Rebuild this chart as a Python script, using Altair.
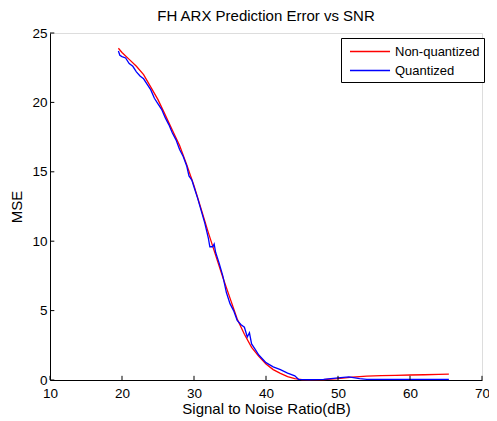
import altair as alt
import pandas as pd

# Non-quantized series
red_x = [19.5, 20, 21, 22, 23, 24, 25, 26, 27, 28, 29, 30, 31, 32, 33, 34, 35, 36, 37, 38,
         39, 40, 41, 42, 43, 44, 45, 46, 48, 50, 52, 54, 56, 58, 60, 62, 64, 65.4]
red_y = [23.9, 23.6, 23.1, 22.6, 22.0, 21.1, 20.2, 19.1, 18.0, 16.9, 15.5, 14.0, 12.3, 10.6,
         9.0, 7.4, 5.9, 4.4, 3.3, 2.35, 1.7, 1.15, 0.75, 0.48, 0.25, 0.1, 0.03, 0.02, 0.03,
         0.1, 0.2, 0.28, 0.32, 0.34, 0.36, 0.38, 0.4, 0.42]

# Quantized series
blue_x = [19.5, 19.7, 20, 20.5, 21, 21.5, 22, 22.5, 23, 23.5, 24, 24.5, 25, 25.5, 26, 26.5,
          27, 27.5, 28, 28.5, 29, 29.3, 29.7, 30, 30.5, 31, 31.5, 32, 32.2, 32.6, 32.8, 33,
          33.5, 34, 34.5, 35, 35.5, 36, 36.5, 37, 37.4, 37.7, 38, 38.5, 39, 40, 41, 42, 43,
          44, 44.5, 46, 48, 50, 51.5, 53, 54, 56, 60, 65.4]
blue_y = [23.7, 23.4, 23.3, 23.2, 22.8, 22.6, 22.2, 21.9, 21.7, 21.3, 20.9, 20.3, 19.9, 19.5,
          18.9, 18.4, 17.8, 17.3, 16.6, 16.1, 15.4, 14.7, 14.4, 13.9, 13.1, 12.2, 11.3, 10.2,
          9.6, 9.6, 9.8, 9.2, 8.4, 7.5, 6.3, 5.5, 5.0, 4.3, 4.0, 3.8, 3.1, 3.4, 2.6, 2.2, 1.8,
          1.25, 0.95, 0.75, 0.5, 0.3, 0.05, 0.03, 0.05, 0.15, 0.22, 0.1, 0.05, 0.04, 0.04, 0.04]

series_names = ["Non-quantized", "Quantized"]
series_colors = ["#ff0000", "#0000ff"]

x_ticks = [10, 20, 30, 40, 50, 60, 70]
y_ticks = [0, 5, 10, 15, 20, 25]

FONT = "Liberation Sans"

df = pd.concat([
    pd.DataFrame({"snr": red_x, "mse": red_y, "series": series_names[0]}),
    pd.DataFrame({"snr": blue_x, "mse": blue_y, "series": series_names[1]}),
])
df["order"] = range(len(df))

xs = alt.Scale(domain=[10, 70], nice=False)
ys = alt.Scale(domain=[0, 25], nice=False)

lines = alt.Chart(df).mark_line(strokeWidth=1.3).encode(
    x=alt.X("snr:Q", scale=xs, title="Signal to Noise Ratio(dB)",
            axis=alt.Axis(values=x_ticks, ticks=False, grid=False, domainColor="black",
                          labelFlush=False, labelOverlap=False,
                          labelColor="black", labelFontSize=13.5, labelFont=FONT,
                          titleFont=FONT, titleFontSize=15, titleFontWeight="normal",
                          titleColor="black", titlePadding=2, labelPadding=6)),
    y=alt.Y("mse:Q", scale=ys, title="MSE",
            axis=alt.Axis(values=y_ticks, ticks=False, grid=False, domainColor="black",
                          labelFlush=False, labelOverlap=False,
                          labelColor="black", labelFontSize=13.5, labelFont=FONT,
                          titleFont=FONT, titleFontSize=15, titleFontWeight="normal",
                          titleColor="black", titlePadding=7, labelPadding=3)),
    color=alt.Color("series:N", scale=alt.Scale(domain=series_names, range=series_colors),
                    legend=alt.Legend(title=None, orient="none", legendX=291, legendY=5,
                                      symbolType="M-0.53,0H4.18", symbolSize=289,
                                      symbolStrokeWidth=1.3, labelFont=FONT,
                                      labelFontSize=13, labelColor="black",
                                      strokeColor="black", fillColor="white",
                                      padding=4, rowPadding=2, labelOffset=31)),
    order="order:Q",
)

xt = pd.DataFrame({"x": x_ticks, "y0": [0] * len(x_ticks), "y1": [0.3] * len(x_ticks)})
yt = pd.DataFrame({"y": y_ticks, "x0": [10] * len(y_ticks), "x1": [10.6] * len(y_ticks)})

xticks = alt.Chart(xt).mark_rule(color="black", strokeWidth=1).encode(
    x=alt.X("x:Q", scale=xs), y=alt.Y("y0:Q", scale=ys), y2="y1:Q")
yticks = alt.Chart(yt).mark_rule(color="black", strokeWidth=1).encode(
    y=alt.Y("y:Q", scale=ys), x=alt.X("x0:Q", scale=xs), x2="x1:Q")

chart = alt.layer(lines, xticks, yticks).properties(
    width=432, height=347,
    title=alt.Title("FH ARX Prediction Error vs SNR", font=FONT, fontSize=15,
                    fontWeight="normal", color="black", anchor="middle", offset=2),
    autosize=alt.AutoSizeParams(type="none"),
    padding={"left": 42, "top": 25, "right": 7, "bottom": 40},
).configure_view(stroke=None).configure(background="white")

chart.save("out.html", embed_options={"renderer": "svg", "actions": False})
